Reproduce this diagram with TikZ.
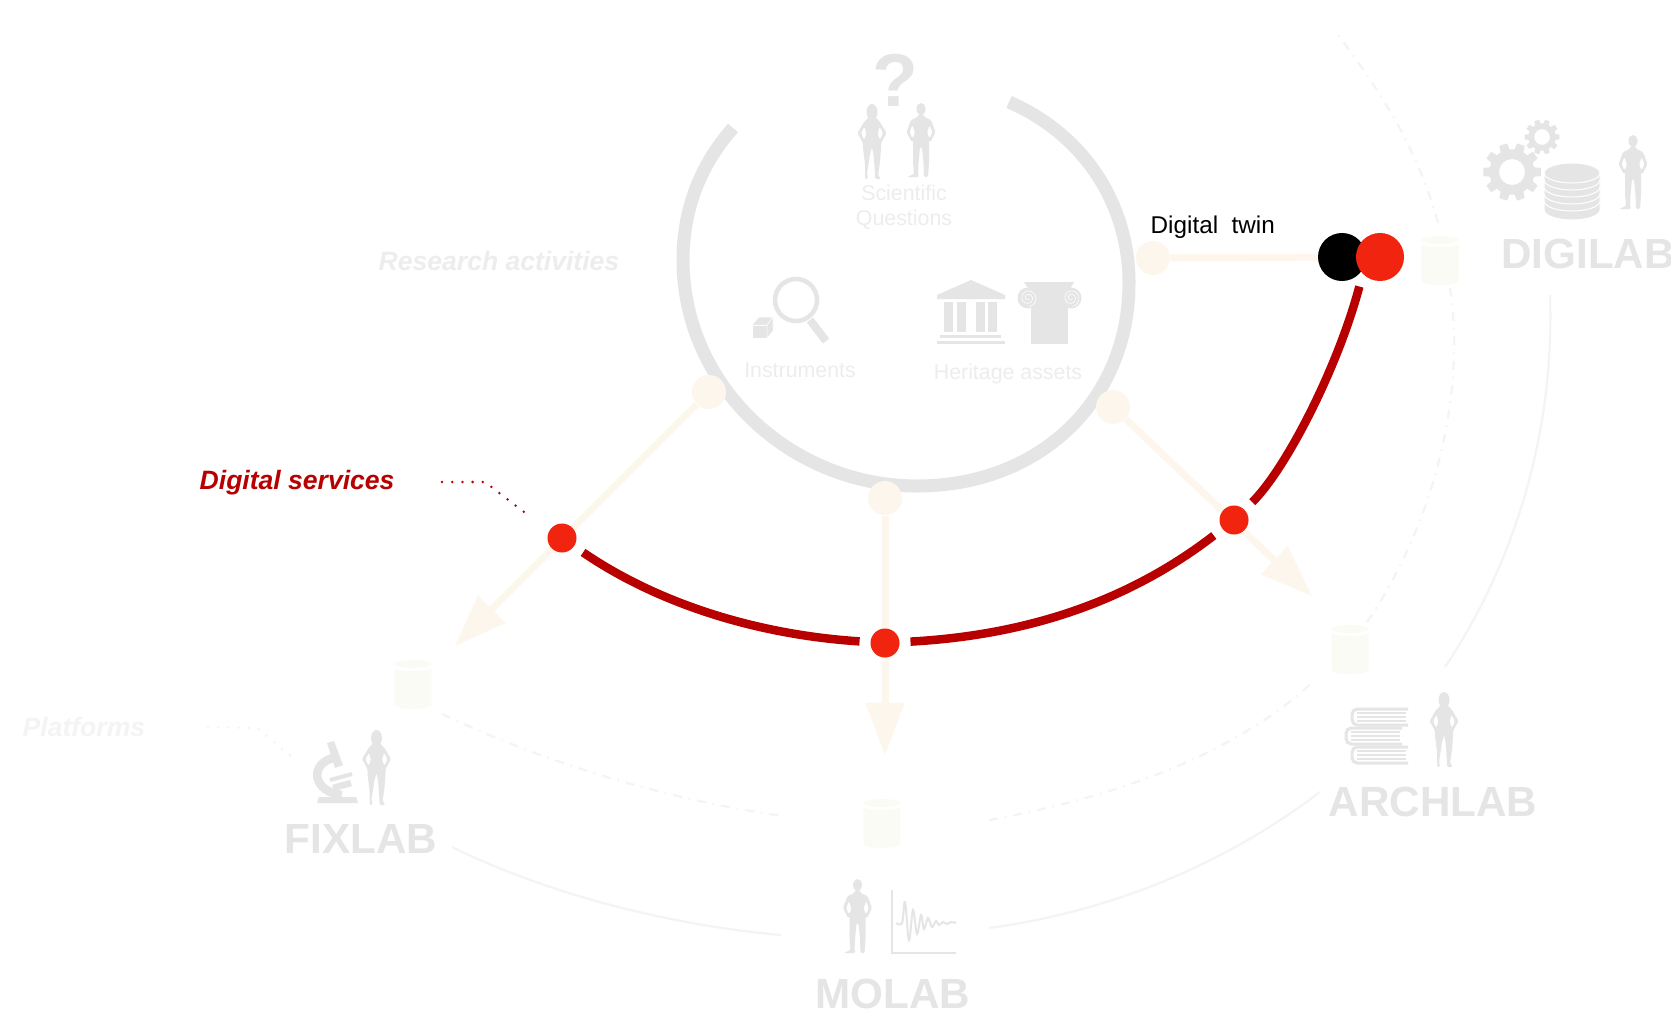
\documentclass[tikz,border=0pt]{standalone}
\usepackage{fontspec}
\setmainfont{Liberation Sans}
\usetikzlibrary{arrows.meta}
\definecolor{icongrey}{HTML}{E5E5E5}
\definecolor{labelgrey}{HTML}{EDEDED}
\definecolor{trackgrey}{HTML}{F4F4F4}
\definecolor{palecream}{HTML}{FDF6EC}
\definecolor{dbcream}{HTML}{FBFBF5}
\definecolor{dotred}{HTML}{F0240F}
\definecolor{curvered}{HTML}{B80000}
\tikzset{
  pale dot/.style={circle, fill=palecream, minimum size=0.34cm, inner sep=0},
  service dot/.style={circle, fill=dotred, minimum size=0.29cm, inner sep=0, outer sep=0.11cm},
  twin dot/.style={circle, minimum size=0.48cm, inner sep=0},
  pale line/.style={draw=palecream, line width=0.07cm},
  pale arrow/.style={pale line, -{Triangle[length=0.52cm, width=0.37cm]}},
  red curve/.style={draw=curvered, line width=0.085cm},
  track solid/.style={draw=trackgrey, line width=0.022cm},
  track dash/.style={draw=trackgrey, line width=0.022cm, dash pattern=on 0.09cm off 0.07cm on 0.015cm off 0.07cm},
  dot lead/.style={line width=0.028cm, line cap=round, dash pattern=on 0pt off 0.102cm},
  lab name/.style={text=icongrey, anchor=base, inner sep=0, font=\fontsize{12}{12}\selectfont\bfseries},
  item label/.style={text=labelgrey, inner sep=0, font=\fontsize{6.07}{7.1}\selectfont},
  side label/.style={anchor=base west, inner sep=0, font=\fontsize{7.55}{8}\selectfont\bfseries\itshape},
  femalefig/.pic={
    \fill[icongrey] (0,8) ellipse (5.5 and 8);
    \fill[icongrey, even odd rule, rounded corners=0.4pt]
      (3,13) -- (8,18) -- (14.5,29) -- (9,39) -- (9,44) -- (8,58) -- (6,71) -- (9,75) -- (3,75) -- (3,70) -- (1.5,50) -- (0,43)
      -- (-2,50) -- (-5,70) -- (-4,75) -- (-7,75) -- (-7,60) -- (-9,44) -- (-9,39) -- (-14.5,29) -- (-8,18) -- (-3,13) -- cycle
      (7.5,22.5) -- (11,29) -- (8,36) -- (5.5,30) -- cycle
      (-7.5,22.5) -- (-11,29) -- (-8,36) -- (-5.5,30) -- cycle;
  },
  malefig/.pic={
    \fill[icongrey] (0,6) ellipse (4.5 and 6);
    \fill[icongrey, even odd rule, rounded corners=0.4pt]
      (2.5,11) -- (3,14) -- (10,17) -- (14.5,29) -- (9.5,39) -- (8,37) -- (8,60) -- (7,74) -- (3,74) -- (2.5,60) -- (1,44)
      -- (-1,44) -- (-2.5,60) -- (-3,72) -- (-2,74) -- (-14,74) -- (-7,71) -- (-8,60) -- (-8,37) -- (-9.5,39) -- (-14.5,29) -- (-10,17) -- (-3,14) -- (-2.5,11) -- cycle
      (8.5,22) -- (11.5,29) -- (8.5,35.5) -- (6,30) -- cycle
      (-8.5,22) -- (-11.5,29) -- (-8.5,35.5) -- (-6,30) -- cycle;
  },
  platform db/.pic={
    \fill[dbcream] (0,4) ellipse (18.5 and 4);
    \fill[dbcream] (-18.5,8) arc[start angle=180, end angle=0, x radius=18.5, y radius=3] -- (18.5,45) arc[start angle=0, end angle=180, x radius=18.5, y radius=4] -- cycle;
  },
  gearwheel/.pic={
    \fill[icongrey, even odd rule] (0,0) circle (7.8) (0,0) circle (4.5);
    \foreach \a in {0,36,...,324}
      \fill[icongrey] (\a-13:7.4) -- (\a-8:10) -- (\a+8:10) -- (\a+13:7.4) -- cycle;
  },
  bookicon/.pic={
    \draw[icongrey, line width=0.03cm, rounded corners=1.5pt] (56,1) -- (0,1) -- (0,17) -- (56,17);
    \foreach \ty in {5,9,13}
      \draw[icongrey, line width=0.012cm] (5,\ty) -- (54,\ty);
  }
}
\begin{document}
\begin{tikzpicture}[x=0.01cm, y=-0.01cm]
\useasboundingbox[fill=white] (0,0) rectangle (1671,1012);

\draw[icongrey, line width=0.13cm] (733,128) .. controls (700,165) and (683,210) .. (683,260)
  .. controls (683,385) and (790,486) .. (917,486)
  .. controls (1040,486) and (1129,400) .. (1129,283)
  .. controls (1129,205) and (1085,135) .. (1009,102);

\coordinate (fm1) at (452,847); \coordinate (fm2) at (781,935);
\coordinate (ma1) at (989,928); \coordinate (ma2) at (1320,792);
\coordinate (ad1) at (1445,667); \coordinate (ad2) at (1550,295);
\coordinate (fd1) at (442,714); \coordinate (fd2) at (783,816);
\coordinate (md1) at (989,820); \coordinate (md2) at (1315,680);
\coordinate (ar1) at (1367,622); \coordinate (ar2) at (1450,288);
\coordinate (dg1) at (1438,223); \coordinate (dg2) at (1336,32);
\draw[track solid] (fm1) .. controls (550,895) and (670,925) .. (fm2);
\draw[track solid] (ma1) .. controls (1120,910) and (1230,860) .. (ma2);
\draw[track solid] (ad1) .. controls (1510,570) and (1555,440) .. (ad2);
\draw[track dash] (fd1) .. controls (550,765) and (670,800) .. (fd2);
\draw[track dash] (md1) .. controls (1100,800) and (1230,760) .. (md2);
\draw[track dash] (ar1) .. controls (1430,530) and (1467,400) .. (ar2);
\draw[track dash] (dg1) .. controls (1415,140) and (1375,85) .. (dg2);

\pic at (413,660) {platform db};
\pic at (882,799) {platform db};
\pic at (1350,625) {platform db};
\pic at (1440,236) {platform db};

\node[pale dot] (instsrc) at (709,392) {};
\node[pale dot] (molsrc) at (885,498) {};
\node[pale dot] (archsrc) at (1113,407) {};
\node[pale dot] (twinsrc) at (1153,258) {};
\coordinate (fixtip) at (455,646);
\coordinate (moltip) at (885,755);
\coordinate (archtip) at (1312,596);
\draw[pale arrow] (instsrc) -- (fixtip);
\draw[pale arrow] (molsrc) -- (moltip);
\draw[pale arrow] (archsrc) -- (archtip);

\node[twin dot, fill=black] (twinblack) at (1342,257) {};
\draw[pale line] (twinsrc) -- (twinblack);
\node[twin dot, fill=dotred, outer sep=0.12cm] (twinred) at (1380,257) {};

\node[service dot] (fixdot) at (562,538) {};
\node[service dot] (moldot) at (885,643) {};
\node[service dot] (archdot) at (1234,520) {};
\draw[red curve] (fixdot) .. controls (660,605) and (760,635) .. (moldot);
\draw[red curve] (moldot) .. controls (1030,635) and (1130,600) .. (archdot);
\draw[red curve] (archdot) .. controls (1285,470) and (1337,370) .. (twinred.235);

\node[anchor=base west, inner sep=0, font=\fontsize{6.9}{8}\selectfont] (twinlabel) at (1150,233) {Digital\ \ twin};
\node[side label, text=labelgrey] (researchlabel) at (378,270) {Research activities};
\node[side label, text=curvered] (serviceslabel) at (199,489) {Digital services};
\node[side label, text=trackgrey] (platformslabel) at (22,736) {Platforms};

\coordinate (sv1) at (442,482); \coordinate (sv2) at (485,482); \coordinate (sv3) at (524,512);
\draw[dot lead, curvered] (sv1) -- (sv2) -- (sv3);
\coordinate (pf1) at (208,727); \coordinate (pf2) at (257,728); \coordinate (pf3) at (292,757);
\draw[dot lead, trackgrey] (pf1) -- (pf2) -- (pf3);

\node[lab name] (digilab) at (1588,268) {DIGILAB};
\node[lab name] (archlab) at (1433,816) {ARCHLAB};
\node[lab name] (molab) at (893,1008) {MOLAB};
\node[lab name] (fixlab) at (361,853) {FIXLAB};

\node[item label, align=center] (questions) at (904,207) {Scientific\\Questions};
\node[item label, anchor=base] (instruments) at (800,377) {Instruments};
\node[item label, anchor=base] (heritage) at (1008,379) {Heritage assets};
\node[text=icongrey, inner sep=0, font=\fontsize{21.3}{22}\selectfont\bfseries] (qmark) at (895,80) {?};

\pic at (872,104) {femalefig};
\pic at (921,103) {malefig};
\pic at (376.5,730) {femalefig};
\pic at (857.5,879) {malefig};
\pic at (1444,692) {femalefig};
\pic at (1633,135) {malefig};

\draw[icongrey, line width=0.045cm] (796,300) circle (21);
\draw[icongrey, line width=0.08cm] (810,320) -- (826,341);
\fill[icongrey, draw=white, line width=0.005cm] (752,325) -- (767,325) -- (767,338) -- (752,338) -- cycle;
\fill[icongrey, draw=white, line width=0.005cm] (752,325) -- (759,317) -- (773,317) -- (767,325) -- cycle;
\fill[icongrey, draw=white, line width=0.005cm] (767,325) -- (773,317) -- (773,331) -- (767,338) -- cycle;

\fill[icongrey] (937,295) -- (971,280) -- (1005,295) -- (1005,299) -- (937,299) -- cycle;
\foreach \cx in {944,957,976,988}
  \fill[icongrey] (\cx,302) rectangle ++(9,30);
\fill[icongrey] (940,335) rectangle (1001,338);
\fill[icongrey] (937,341) rectangle (1005,344);

\fill[icongrey] (1024,282) -- (1074,282) -- (1071,287) -- (1027,287) -- cycle;
\fill[icongrey] (1028,287) rectangle (1071,300);
\fill[icongrey] (1031,298) rectangle (1068,344);
\foreach \sx in {1028,1071} {
  \fill[icongrey] (\sx,298) circle (10.5);
  \draw[white, line width=0.006cm] plot[domain=0:800, samples=60, smooth] ({\sx+(1+0.0095*\x)*cos(\x)}, {298+(1+0.0095*\x)*sin(\x)});
}

\pic[scale=2.9] at (1512,172) {gearwheel};
\pic[scale=1.75] at (1542,137) {gearwheel};
\fill[icongrey, draw=white, line width=0.01cm] (1544,173) -- (1544,210) arc[start angle=180, end angle=0, x radius=28, y radius=10] -- (1600,173) arc[start angle=0, end angle=-180, x radius=28, y radius=10] -- cycle;
\foreach \dy in {173,180,187,194,201}
  \draw[white, line width=0.01cm] (1544,\dy) arc[start angle=180, end angle=0, x radius=28, y radius=10];

\pic at (1352,708) {bookicon};
\pic at (1346,727) {bookicon};
\pic at (1352,746) {bookicon};

\draw[icongrey, line width=0.025cm] (892,890) -- (892,953) -- (956,953);
\draw[icongrey, line width=0.02cm] plot[smooth, tension=0.6] coordinates {(896,923) (902,923) (905,902) (909,940) (913,910) (917,934) (921,915) (924,929) (928,918) (932,927) (936,921) (939,925) (943,922) (947,924) (951,922) (956,923)};

\fill[icongrey] (317,803) -- (319,797) -- (356,797) -- (358,803) -- cycle;
\fill[icongrey] (327,743) -- (334,741) -- (343,765) -- (335,768) -- cycle;
\draw[icongrey, line width=0.085cm] (337,757) .. controls (308,762) and (312,792) .. (342,795);
\draw[icongrey, line width=0.04cm] (330,780) -- (352,774);
\draw[icongrey, line width=0.065cm] (333,788) -- (351,783);
\end{tikzpicture}
\end{document}
